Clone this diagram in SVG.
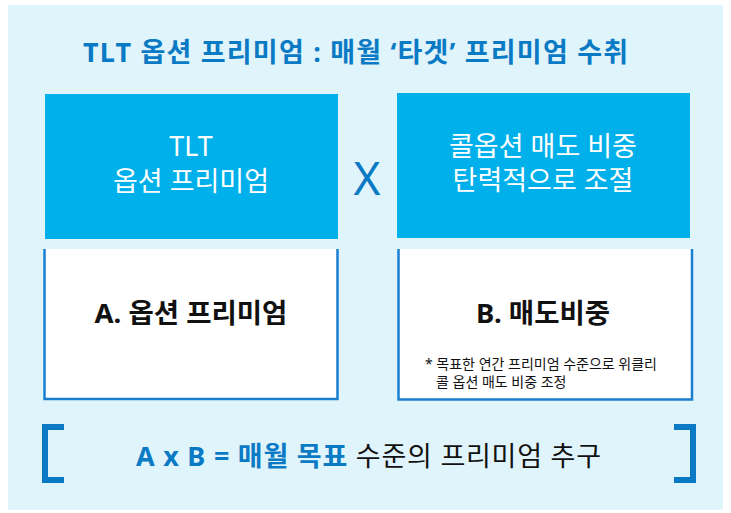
<svg xmlns="http://www.w3.org/2000/svg" width="731" height="513" viewBox="0 0 731 513">
<style>
text{font-family:"Noto Sans","Noto Sans CJK KR",sans-serif}
.title{font-size:27px;font-weight:700;fill:#0a7ac5}
.head{font-size:27px;fill:#ffffff;text-anchor:middle}
.lbl{font-size:27.5px;font-weight:700;fill:#111;text-anchor:middle}
.note{font-size:14px;fill:#111}
.cyan{fill:#00b0ea}
.white{fill:#ffffff}
.border{fill:none;stroke:#1a7fd0;stroke-width:2.5}
.brk{fill:none;stroke:#0a7ac5;stroke-width:6}
</style>
<rect x="8" y="5" width="715" height="505" fill="#e0f4fb"/>
<text class="title" x="83" y="62" textLength="545" lengthAdjust="spacing">TLT 옵션 프리미엄 : 매월 ‘타겟’ 프리미엄 수취</text>
<g id="premium-head">
<rect class="cyan" x="45" y="94" width="293" height="145"/>
<text class="head" x="191" y="156">TLT</text>
<text class="head" x="191" y="191">옵션 프리미엄</text>
</g>
<g id="times">
<text x="367" y="195" font-size="46" fill="#0a7ac5" text-anchor="middle">X</text>
</g>
<g id="ratio-head">
<rect class="cyan" x="397" y="93" width="293" height="145"/>
<text class="head" x="543" y="156">콜옵션 매도 비중</text>
<text class="head" x="543" y="190">탄력적으로 조절</text>
</g>
<g id="premium-box">
<rect class="white" x="44" y="249" width="294" height="150"/>
<path class="border" d="M44.5 249V399H337.5V249"/>
<text class="lbl" x="191" y="323">A. 옵션 프리미엄</text>
</g>
<g id="ratio-box">
<rect class="white" x="398" y="249" width="294" height="151"/>
<path class="border" d="M398.5 249V399.5H692V249"/>
<text class="lbl" x="543" y="323">B. 매도비중</text>
<text class="note" x="425" y="369">* 목표한 연간 프리미엄 수준으로 위클리</text>
<text class="note" x="436" y="387">콜 옵션 매도 비중 조정</text>
</g>
<g id="result">
<path class="brk" d="M64 427H45V480H64"/>
<path class="brk" d="M674 427H693V480H674"/>
<text x="136" y="466" font-size="27" fill="#111" textLength="465" lengthAdjust="spacing"><tspan font-weight="700" fill="#0a7ac5">A x B = 매월 목표</tspan> 수준의 프리미엄 추구</text>
</g>
</svg>
